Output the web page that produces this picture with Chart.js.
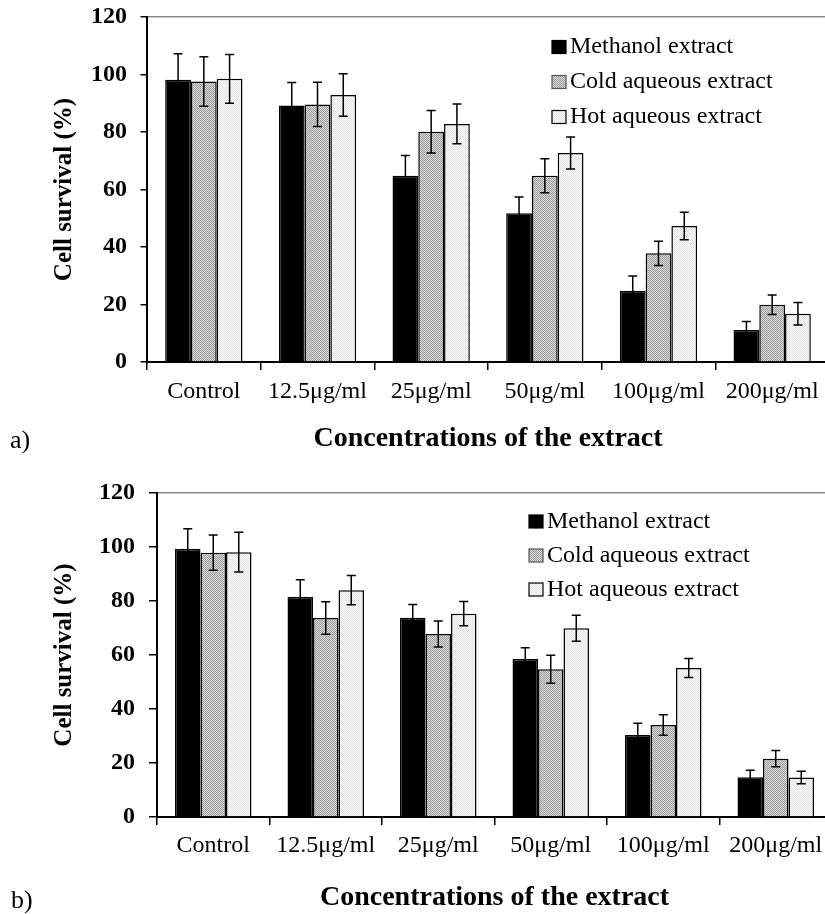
<!DOCTYPE html>
<html>
<head>
<meta charset="utf-8">
<script src="https://cdn.jsdelivr.net/npm/chart.js@4.4.0/dist/chart.umd.min.js"></script>
<style>
  html, body { margin: 0; padding: 0; background: #fff; overflow: hidden; }
  .wrap { position: absolute; left: 0; width: 840px; }
  #wrapA { top: 0; height: 460px; }
  #wrapB { top: 460px; height: 454px; }
  .tag { position: absolute; font: 26px "Liberation Serif", serif; color: #000; line-height: 30px; }
</style>
</head>
<body>
<div class="wrap" id="wrapA"><canvas id="chartA" width="840" height="460"></canvas></div>
<div class="wrap" id="wrapB"><canvas id="chartB" width="840" height="454"></canvas></div>
<div class="tag" style="left:10px; top:425px;">a)</div>
<div class="tag" style="left:11px; top:885px;">b)</div>

<script>
const concentrations = ['Control', '12.5μg/ml', '25μg/ml', '50μg/ml', '100μg/ml', '200μg/ml'];
const seriesNames = ['Methanol extract', 'Cold aqueous extract', 'Hot aqueous extract'];
const yTicks = [0, 20, 40, 60, 80, 100, 120];

// panel a
const methanolA = [98.2, 89.2, 64.8, 51.7, 24.8, 11.1];
const methanolErrA = [9.0, 8.0, 7.0, 5.7, 5.1, 3.0];
const coldA = [97.6, 89.6, 80.1, 64.8, 37.8, 19.9];
const coldErrA = [8.6, 7.7, 7.4, 5.9, 4.2, 3.4];
const hotA = [98.5, 92.9, 82.8, 72.7, 47.3, 16.8];
const hotErrA = [8.5, 7.4, 6.9, 5.6, 4.8, 3.9];

// panel b
const methanolB = [99.3, 81.5, 73.8, 58.5, 30.4, 14.7];
const methanolErrB = [7.5, 6.4, 4.9, 4.2, 4.3, 2.6];
const coldB = [97.9, 73.7, 67.8, 54.7, 34.1, 21.6];
const coldErrB = [6.5, 6.0, 4.8, 5.2, 3.8, 3.0];
const hotB = [98.1, 84.0, 75.3, 69.9, 55.2, 14.6];
const hotErrB = [7.4, 5.4, 4.5, 4.8, 3.5, 2.3];

function makePattern(c1, c2) {
    const p = document.createElement('canvas');
    p.width = 2; p.height = 2;
    const pc = p.getContext('2d');
    pc.fillStyle = c1; pc.fillRect(0, 0, 2, 2);
    pc.fillStyle = c2; pc.fillRect(0, 0, 1, 1); pc.fillRect(1, 1, 1, 1);
    return pc.createPattern(p, 'repeat');
}

const coldFill = makePattern('#d9d9d9', '#9c9c9c');
const hotFill = makePattern('#fbfbfb', '#e2e2e2');

const errorBars = {
    id: 'errorBars',
    afterDatasetsDraw(chart) {
        const ctx = chart.ctx;
        const y = chart.scales.y;
        chart.data.datasets.forEach((ds, i) => {
            chart.getDatasetMeta(i).data.forEach((bar, j) => {
                const top = y.getPixelForValue(ds.data[j] + ds.errors[j]);
                const bot = y.getPixelForValue(ds.data[j] - ds.errors[j]);
                ctx.save();
                ctx.strokeStyle = '#000';
                ctx.lineWidth = 1.5;
                ctx.beginPath();
                ctx.moveTo(bar.x, top); ctx.lineTo(bar.x, bot);
                ctx.moveTo(bar.x - 4.5, top); ctx.lineTo(bar.x + 4.5, top);
                ctx.moveTo(bar.x - 4.5, bot); ctx.lineTo(bar.x + 4.5, bot);
                ctx.stroke();
                ctx.restore();
            });
        });
    }
};

const boxLegend = {
    id: 'boxLegend',
    afterDraw(chart, args, opts) {
        const ctx = chart.ctx;
        ctx.save();
        ctx.font = '24px "Liberation Serif"';
        ctx.textBaseline = 'middle';
        chart.data.datasets.forEach((ds, i) => {
            const cy = opts.y + i * opts.gap;
            ctx.fillStyle = ds.backgroundColor;
            ctx.fillRect(opts.x, cy - 6.5, 14, 13);
            ctx.strokeStyle = i === 1 ? '#555' : '#000';
            ctx.lineWidth = 1.2;
            ctx.strokeRect(opts.x, cy - 6.5, 14, 13);
            ctx.fillStyle = '#000';
            ctx.fillText(ds.label, opts.x + 18, cy);
        });
        ctx.restore();
    }
};

function makeChart(id, values, errors, g) {
    const fills = ['#000', coldFill, hotFill];
    return new Chart(document.getElementById(id), {
        type: 'bar',
        data: {
            labels: concentrations,
            datasets: seriesNames.map((name, i) => ({
                label: name,
                data: values[i],
                errors: errors[i],
                backgroundColor: fills[i],
                borderColor: '#000',
                borderWidth: 1.5,
                barPercentage: 1,
                categoryPercentage: 0.68
            }))
        },
        options: {
            responsive: false,
            animation: false,
            layout: { padding: g.pad },
            plugins: {
                legend: { display: false },
                tooltip: { enabled: false },
                boxLegend: g.legend
            },
            scales: {
                x: {
                    grid: { display: true, drawOnChartArea: false, offset: true, color: '#000', lineWidth: 1.5, tickLength: g.xTick },
                    border: { display: true, color: '#000', width: 2 },
                    ticks: { color: '#000', font: { family: 'Liberation Serif', size: 24, lineHeight: 1 }, padding: g.xLabelPad, maxRotation: 0, autoSkip: false },
                    title: {
                        display: true, text: 'Concentrations of the extract', color: '#000',
                        font: { family: 'Liberation Serif', size: 28, weight: 'bold', lineHeight: 1 },
                        padding: { top: 0, bottom: g.xTitlePad }
                    },
                    afterFit(s) { s.height = g.xHeight; }
                },
                y: {
                    min: 0, max: 120,
                    afterBuildTicks(s) { s.ticks = yTicks.map(v => ({ value: v })); },
                    ticks: { color: '#000', font: { family: 'Liberation Serif', size: 24, weight: 'bold' }, padding: g.yLabelPad },
                    grid: {
                        drawOnChartArea: true,
                        color: c => (c.tick && c.tick.value === 120 ? '#8a8a8a' : 'rgba(0,0,0,0)'),
                        tickColor: '#000', lineWidth: 1.5, tickLength: g.yTick
                    },
                    border: { display: true, color: '#000', width: 2 },
                    title: {
                        display: true, text: 'Cell survival (%)', color: '#000',
                        font: { family: 'Liberation Serif', size: 25, weight: 'bold', lineHeight: 1.2 },
                        padding: { top: 0, bottom: 0 }
                    },
                    afterFit(s) {
                        s.width = g.yWidth;
                        s.paddingTop = 0;
                        s.paddingBottom = 0;
                    }
                }
            }
        },
        plugins: [errorBars, boxLegend]
    });
}

makeChart('chartA', [methanolA, coldA, hotA], [methanolErrA, coldErrA, hotErrA], {
    pad: { top: 17, left: 50, right: 11, bottom: 0 },
    yWidth: 97, xHeight: 98, xTick: 8, yTick: 6.5, xLabelPad: 10, yLabelPad: 13.5, xTitlePad: 7,
    legend: { x: 552, y: 47, gap: 35 }
});

makeChart('chartB', [methanolB, coldB, hotB], [methanolErrB, coldErrB, hotErrB], {
    pad: { top: 33, left: 50, right: 8, bottom: 0 },
    yWidth: 107, xHeight: 97, xTick: 8, yTick: 8, xLabelPad: 9, yLabelPad: 14, xTitlePad: 2,
    legend: { x: 529, y: 61.5, gap: 34 }
});
</script>
</body>
</html>
